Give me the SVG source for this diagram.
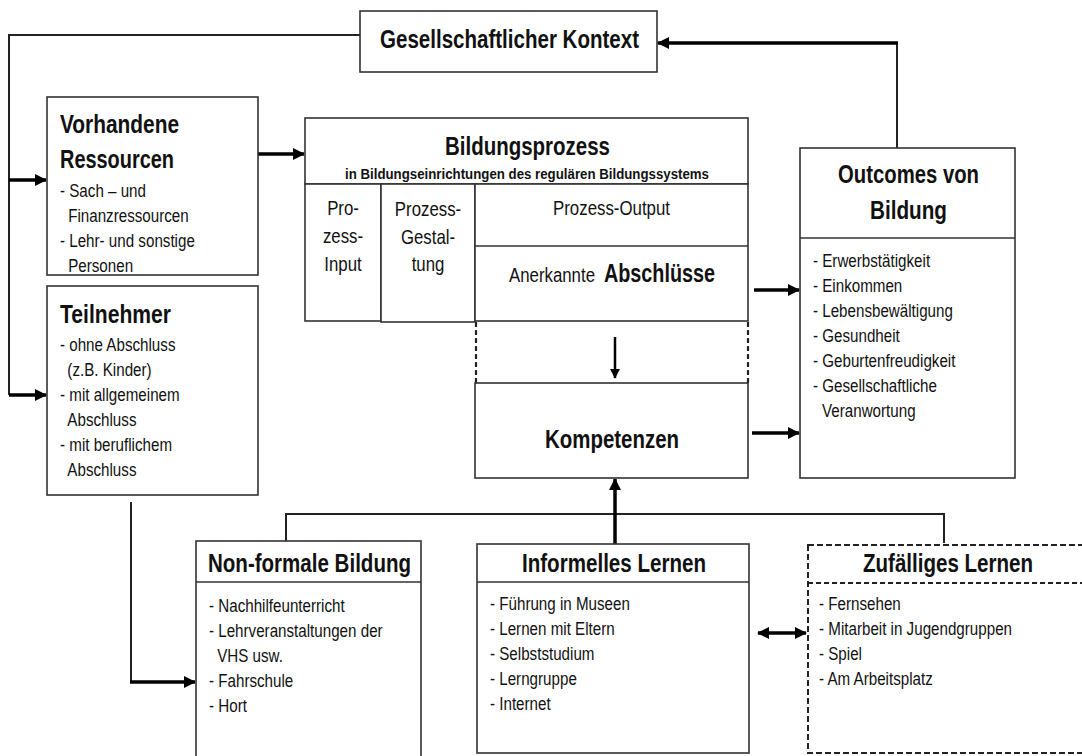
<svg xmlns="http://www.w3.org/2000/svg" width="1082" height="756" viewBox="0 0 1082 756">
<style>
.box{fill:#fff;stroke:#333;stroke-width:1.6}
.ln{fill:none;stroke:#333;stroke-width:1.6}
.dbox{fill:#fff;stroke:#222;stroke-width:2;stroke-dasharray:6 3}
.dl{fill:none;stroke:#222;stroke-width:2.2;stroke-dasharray:5 3}
.thin{fill:none;stroke:#222;stroke-width:2}
.thick{fill:none;stroke:#000;stroke-width:3.5}
.med{fill:none;stroke:#000;stroke-width:2.5}
text{font-family:"Liberation Sans",Arial,sans-serif;fill:#111}
.ti{font-weight:bold;font-size:26px}
.it{font-size:18.5px}
.pt{font-size:20.5px}
.c{text-anchor:middle}
</style>
<defs>
<marker id="ah" viewBox="0 0 12 12" refX="11" refY="6" markerWidth="12" markerHeight="12" markerUnits="userSpaceOnUse" orient="auto-start-reverse"><path d="M0,0 L12,6 L0,12 z" fill="#000"/></marker>
<marker id="ahs" viewBox="0 0 12 12" refX="11" refY="6" markerWidth="10" markerHeight="10" markerUnits="userSpaceOnUse" orient="auto-start-reverse"><path d="M0,0 L12,6 L0,12 z" fill="#000"/></marker>
</defs>

<g id="connectors">
<path class="thin" d="M360,35 H9 V395"/>
<path class="thick" d="M9,180 H46" marker-end="url(#ah)"/>
<path class="thick" d="M9,395 H46" marker-end="url(#ah)"/>
<path class="thick" d="M258,154 H304" marker-end="url(#ah)"/>
<path class="thin" d="M897,148 V43"/>
<path class="thick" d="M898,43 H658" marker-end="url(#ah)"/>
<path class="thick" d="M754,290 H799" marker-end="url(#ah)"/>
<path class="thick" d="M752,433 H799" marker-end="url(#ah)"/>
<path class="dl" d="M476,322 V383"/>
<path class="dl" d="M748,322 V383"/>
<path class="med" d="M615,337 V378" marker-end="url(#ahs)"/>
<path class="thin" d="M131,502 V682"/>
<path class="thick" d="M130,682 H195" marker-end="url(#ah)"/>
<path class="thin" d="M286,541 V514 H944 V543"/>
<path class="thick" d="M615,544 V479" marker-end="url(#ah)"/>
<path class="thick" d="M758,633 H806" marker-start="url(#ah)" marker-end="url(#ah)"/>
</g>

<g id="kontext">
<rect class="box" x="360" y="11" width="297" height="61"/>
<text class="ti c" x="509.5" y="48" textLength="259" lengthAdjust="spacingAndGlyphs">Gesellschaftlicher Kontext</text>
</g>

<g id="ressourcen">
<rect class="box" x="47" y="97" width="211" height="178"/>
<text class="ti" x="60" y="133" textLength="119" lengthAdjust="spacingAndGlyphs">Vorhandene</text>
<text class="ti" x="60" y="168" textLength="114" lengthAdjust="spacingAndGlyphs">Ressourcen</text>
<g transform="translate(60 0) scale(0.82 1)">
<text class="it" x="0" y="197">- Sach – und</text>
<text class="it" x="10" y="222">Finanzressourcen</text>
<text class="it" x="0" y="247">- Lehr- und sonstige</text>
<text class="it" x="10" y="272">Personen</text>
</g>
</g>

<g id="teilnehmer">
<rect class="box" x="47" y="286" width="211" height="209"/>
<text class="ti" x="60" y="323" textLength="111" lengthAdjust="spacingAndGlyphs">Teilnehmer</text>
<g transform="translate(60 0) scale(0.82 1)">
<text class="it" x="0" y="351">- ohne Abschluss</text>
<text class="it" x="9" y="376">(z.B. Kinder)</text>
<text class="it" x="0" y="401">- mit allgemeinem</text>
<text class="it" x="9" y="426">Abschluss</text>
<text class="it" x="0" y="451">- mit beruflichem</text>
<text class="it" x="9" y="476">Abschluss</text>
</g>
</g>

<g id="bildungsprozess">
<rect class="box" x="305" y="118" width="443" height="66"/>
<text class="ti c" x="527.5" y="155" textLength="165" lengthAdjust="spacingAndGlyphs">Bildungsprozess</text>
<text class="c" x="527" y="179" font-size="14.5" font-weight="bold" textLength="364" lengthAdjust="spacingAndGlyphs">in Bildungseinrichtungen des regulären Bildungssystems</text>
<rect class="box" x="305" y="184" width="76" height="137"/>
<rect class="box" x="381" y="184" width="94" height="138"/>
<rect class="box" x="475" y="184" width="273" height="137"/>
<line class="ln" x1="475" y1="246" x2="748" y2="246"/>
<g transform="translate(343 0) scale(0.82 1)">
<text class="pt c" x="0" y="215">Pro-</text>
<text class="pt c" x="0" y="243">zess-</text>
<text class="pt c" x="0" y="271">Input</text>
</g>
<g transform="translate(428 0) scale(0.82 1)">
<text class="pt c" x="0" y="216">Prozess-</text>
<text class="pt c" x="0" y="244">Gestal-</text>
<text class="pt c" x="0" y="271">tung</text>
</g>
<text class="pt c" x="611.5" y="215" textLength="117" lengthAdjust="spacingAndGlyphs">Prozess-Output</text>
<text x="509" y="282"><tspan class="pt" textLength="86" lengthAdjust="spacingAndGlyphs">Anerkannte</tspan><tspan class="ti" x="604" textLength="111" lengthAdjust="spacingAndGlyphs">Abschlüsse</tspan></text>
</g>

<g id="kompetenzen">
<rect class="box" x="475" y="383" width="273" height="95"/>
<text class="c" x="612" y="448" font-size="25" font-weight="bold" textLength="134" lengthAdjust="spacingAndGlyphs">Kompetenzen</text>
</g>

<g id="outcomes">
<rect class="box" x="800" y="148" width="215" height="330"/>
<line class="ln" x1="800" y1="238" x2="1015" y2="238"/>
<text class="ti c" x="908.5" y="183" textLength="141" lengthAdjust="spacingAndGlyphs">Outcomes von</text>
<text class="ti c" x="908.5" y="219" textLength="77" lengthAdjust="spacingAndGlyphs">Bildung</text>
<g transform="translate(813 0) scale(0.82 1)">
<text class="it" x="0" y="267">- Erwerbstätigkeit</text>
<text class="it" x="0" y="292">- Einkommen</text>
<text class="it" x="0" y="317">- Lebensbewältigung</text>
<text class="it" x="0" y="342">- Gesundheit</text>
<text class="it" x="0" y="367">- Geburtenfreudigkeit</text>
<text class="it" x="0" y="392">- Gesellschaftliche</text>
<text class="it" x="11" y="417">Veranwortung</text>
</g>
</g>

<g id="nonformal">
<rect class="box" x="196" y="541" width="225" height="230"/>
<line class="ln" x1="196" y1="582" x2="421" y2="582"/>
<text class="ti" x="208" y="572" textLength="203" lengthAdjust="spacingAndGlyphs">Non-formale Bildung</text>
<g transform="translate(209 0) scale(0.82 1)">
<text class="it" x="0" y="612">- Nachhilfeunterricht</text>
<text class="it" x="0" y="637">- Lehrveranstaltungen der</text>
<text class="it" x="10" y="662">VHS usw.</text>
<text class="it" x="0" y="687">- Fahrschule</text>
<text class="it" x="0" y="712">- Hort</text>
</g>
</g>

<g id="informell">
<rect class="box" x="477" y="544" width="272" height="209"/>
<line class="ln" x1="477" y1="582" x2="749" y2="582"/>
<text class="ti" x="522" y="572" textLength="184" lengthAdjust="spacingAndGlyphs">Informelles Lernen</text>
<g transform="translate(490 0) scale(0.82 1)">
<text class="it" x="0" y="610">- Führung in Museen</text>
<text class="it" x="0" y="635">- Lernen mit Eltern</text>
<text class="it" x="0" y="660">- Selbststudium</text>
<text class="it" x="0" y="685">- Lerngruppe</text>
<text class="it" x="0" y="710">- Internet</text>
</g>
</g>

<g id="zufaellig">
<rect class="dbox" x="808" y="545" width="290" height="208"/>
<line class="dl" x1="808" y1="583" x2="1090" y2="583"/>
<text class="ti" x="863" y="572" textLength="170" lengthAdjust="spacingAndGlyphs">Zufälliges Lernen</text>
<g transform="translate(819 0) scale(0.82 1)">
<text class="it" x="0" y="610">- Fernsehen</text>
<text class="it" x="0" y="635">- Mitarbeit in Jugendgruppen</text>
<text class="it" x="0" y="660">- Spiel</text>
<text class="it" x="0" y="685">- Am Arbeitsplatz</text>
</g>
</g>
</svg>
